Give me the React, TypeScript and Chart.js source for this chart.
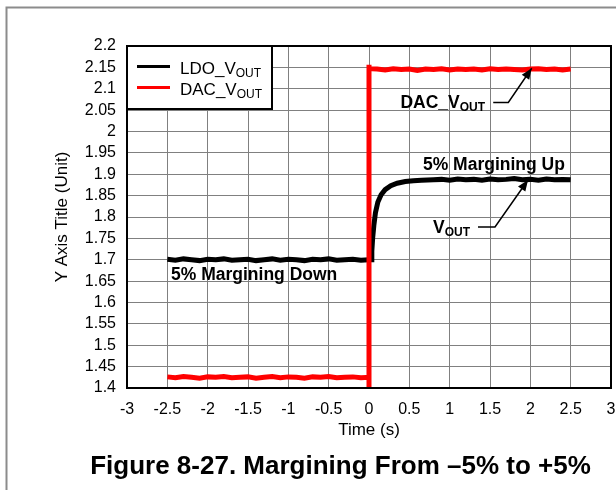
import React, { useEffect, useRef } from "react";
import { Chart, registerables } from "chart.js";

Chart.register(...registerables);

// ---- data ----
const xTickValues = [-3, -2.5, -2, -1.5, -1, -0.5, 0, 0.5, 1, 1.5, 2, 2.5, 3];
const xTickLabels = ["-3", "-2.5", "-2", "-1.5", "-1", "-0.5", "0", "0.5", "1", "1.5", "2", "2.5", "3"];
const yTickValues = [1.4, 1.45, 1.5, 1.55, 1.6, 1.65, 1.7, 1.75, 1.8, 1.85, 1.9, 1.95, 2, 2.05, 2.1, 2.15, 2.2];
const yTickLabels = ["1.4", "1.45", "1.5", "1.55", "1.6", "1.65", "1.7", "1.75", "1.8", "1.85", "1.9", "1.95", "2", "2.05", "2.1", "2.15", "2.2"];

const ldoTime = [
  -2.5, -2.4, -2.3, -2.2, -2.1, -2.0, -1.9, -1.8, -1.7, -1.6, -1.5, -1.4, -1.3,
  -1.2, -1.1, -1.0, -0.9, -0.8, -0.7, -0.6, -0.5, -0.4, -0.3, -0.2, -0.1, 0.0,
  0.03, 0.035, 0.045, 0.06, 0.08, 0.11, 0.15, 0.2, 0.27, 0.35, 0.45, 0.55, 0.65, 0.8,
  0.9, 1.0, 1.1, 1.2, 1.3, 1.4, 1.5, 1.6, 1.7, 1.8, 1.9, 2.0, 2.1, 2.2, 2.3, 2.4, 2.5,
];
const ldoVolt = [
  1.701, 1.699, 1.702, 1.700, 1.698, 1.701, 1.700, 1.702, 1.699, 1.700, 1.701, 1.698, 1.700,
  1.702, 1.699, 1.701, 1.700, 1.698, 1.701, 1.700, 1.702, 1.699, 1.700, 1.701, 1.699, 1.700,
  1.700, 1.720, 1.750, 1.780, 1.810, 1.835, 1.852, 1.864, 1.873, 1.879, 1.883, 1.885, 1.886, 1.887,
  1.888, 1.886, 1.889, 1.887, 1.888, 1.886, 1.889, 1.887, 1.888, 1.890, 1.887, 1.888, 1.886, 1.889, 1.887, 1.888, 1.887,
];

const dacTime = [
  -2.5, -2.4, -2.3, -2.2, -2.1, -2.0, -1.9, -1.8, -1.7, -1.6, -1.5, -1.4, -1.3,
  -1.2, -1.1, -1.0, -0.9, -0.8, -0.7, -0.6, -0.5, -0.4, -0.3, -0.2, -0.1,
  0.0, 0.0, 0.0, 0.0,
  0.1, 0.2, 0.3, 0.4, 0.5, 0.6, 0.7, 0.8, 0.9, 1.0, 1.1, 1.2, 1.3, 1.4, 1.5,
  1.6, 1.7, 1.8, 1.9, 2.0, 2.1, 2.2, 2.3, 2.4, 2.5,
];
const dacVolt = [
  1.426, 1.424, 1.427, 1.425, 1.423, 1.426, 1.425, 1.427, 1.424, 1.425, 1.426, 1.423, 1.425,
  1.427, 1.424, 1.426, 1.425, 1.423, 1.426, 1.425, 1.427, 1.424, 1.425, 1.426, 1.424,
  1.425, 1.4, 2.156, 2.147,
  2.146, 2.144, 2.147, 2.145, 2.146, 2.143, 2.146, 2.145, 2.147, 2.144, 2.146, 2.145, 2.146, 2.144, 2.147,
  2.145, 2.146, 2.145, 2.144, 2.146, 2.147, 2.145, 2.146, 2.144, 2.146,
];

const seriesNames = ["LDO_V", "DAC_V"];
const seriesSub = "OUT";
const seriesColors = ["#000000", "#ff0000"];

const FONT = 'Arial, "Liberation Sans", sans-serif';

function subText(ctx: CanvasRenderingContext2D, main: string, sub: string, x: number, y: number, mainFont: string, subFont: string, dy: number) {
  ctx.font = mainFont;
  ctx.textAlign = "left";
  ctx.textBaseline = "alphabetic";
  ctx.fillText(main, x, y);
  const w = ctx.measureText(main).width;
  ctx.font = subFont;
  ctx.fillText(sub, x + w, y + dy);
}

function arrow(ctx: CanvasRenderingContext2D, pts: number[][]) {
  ctx.save();
  ctx.strokeStyle = "#000";
  ctx.fillStyle = "#000";
  ctx.lineWidth = 1.5;
  ctx.beginPath();
  ctx.moveTo(pts[0][0], pts[0][1]);
  for (let i = 1; i < pts.length; i++) ctx.lineTo(pts[i][0], pts[i][1]);
  ctx.stroke();
  const [x1, y1] = pts[pts.length - 2];
  const [x2, y2] = pts[pts.length - 1];
  const ang = Math.atan2(y2 - y1, x2 - x1);
  const L = 11, W = 4.5;
  const bx = x2 - L * Math.cos(ang), by = y2 - L * Math.sin(ang);
  ctx.beginPath();
  ctx.moveTo(x2, y2);
  ctx.lineTo(bx + W * Math.sin(ang), by - W * Math.cos(ang));
  ctx.lineTo(bx - W * Math.sin(ang), by + W * Math.cos(ang));
  ctx.closePath();
  ctx.fill();
  ctx.restore();
}

const decorPlugin = {
  id: "decor",
  beforeDraw(chart: any) {
    const ctx = chart.ctx as CanvasRenderingContext2D;
    ctx.save();
    ctx.fillStyle = "#fff";
    ctx.fillRect(0, 0, chart.width, chart.height);
    ctx.strokeStyle = "#8c8c8c";
    ctx.lineWidth = 2;
    ctx.beginPath();
    ctx.moveTo(6.5, chart.height);
    ctx.lineTo(6.5, 7.5);
    ctx.lineTo(chart.width, 7.5);
    ctx.stroke();
    ctx.restore();
  },
  afterDraw(chart: any) {
    const ctx = chart.ctx as CanvasRenderingContext2D;
    const a = chart.chartArea;
    const xs = chart.scales.x;
    const ys = chart.scales.y;
    const px = (v: number) => xs.getPixelForValue(v);
    const py = (v: number) => ys.getPixelForValue(v);
    ctx.save();
    // plot frame
    ctx.strokeStyle = "#000";
    ctx.lineWidth = 2;
    ctx.strokeRect(a.left, a.top, a.right - a.left, a.bottom - a.top);

    // legend
    const lx = a.left, ly = a.top, lw = 145, lh = 63;
    ctx.fillStyle = "#fff";
    ctx.fillRect(lx, ly, lw, lh);
    ctx.strokeStyle = "#000";
    ctx.lineWidth = 2;
    ctx.strokeRect(lx, ly, lw, lh);
    for (let i = 0; i < seriesNames.length; i++) {
      const yy = ly + 20.5 + i * 21;
      ctx.strokeStyle = seriesColors[i];
      ctx.lineWidth = 3;
      ctx.beginPath();
      ctx.moveTo(lx + 10, yy);
      ctx.lineTo(lx + 43, yy);
      ctx.stroke();
      ctx.fillStyle = "#000";
      subText(ctx, seriesNames[i], seriesSub, lx + 53, yy + 7.5, `17px ${FONT}`, `12px ${FONT}`, 3);
    }

    // annotations
    ctx.fillStyle = "#000";
    const boldMain = `bold 17.5px ${FONT}`;
    const boldSub = `bold 12px ${FONT}`;
    subText(ctx, "DAC_V", "OUT", px(0.39), py(2.055), boldMain, boldSub, 3);
    arrow(ctx, [[px(1.54), py(2.068)], [px(1.727), py(2.068)], [px(2.017), py(2.148)]]);

    ctx.font = boldMain;
    ctx.fillText("5% Margining Up", px(0.669), py(1.91));

    subText(ctx, "V", "OUT", px(0.793), py(1.7626), boldMain, boldSub, 3);
    arrow(ctx, [[px(1.351), py(1.7766)], [px(1.562), py(1.7766)], [px(1.971), py(1.8866)]]);

    ctx.font = boldMain;
    ctx.fillText("5% Margining Down", px(-2.454), py(1.6526));

    // figure caption
    ctx.font = `bold 26px ${FONT}`;
    ctx.textAlign = "center";
    ctx.textBaseline = "middle";
    ctx.fillText("Figure 8-27. Margining From \u20135% to +5%", 340.5, 467);
    ctx.restore();
  },
};

export default function App() {
  const ref = useRef<HTMLCanvasElement | null>(null);
  useEffect(() => {
    document.body.style.margin = "0";
    const canvas = ref.current!;
    Chart.defaults.font.family = FONT;
    Chart.defaults.color = "#000";
    const chart = new Chart(canvas, {
      type: "line",
      data: {
        datasets: [
          {
            label: "DAC",
            data: dacTime.map((t, i) => ({ x: t, y: dacVolt[i] })),
            borderColor: seriesColors[1],
            borderWidth: 5,
            pointRadius: 0,
            tension: 0,
            order: 0,
          },
          {
            label: "LDO",
            data: ldoTime.map((t, i) => ({ x: t, y: ldoVolt[i] })),
            borderColor: seriesColors[0],
            borderWidth: 5,
            pointRadius: 0,
            tension: 0,
            order: 1,
          },
        ],
      },
      options: {
        responsive: false,
        animation: false,
        devicePixelRatio: 1,
        layout: { padding: { top: 46, right: 5, left: 0, bottom: 0 } },
        plugins: { legend: { display: false }, tooltip: { enabled: false }, title: { display: false } },
        scales: {
          x: {
            type: "linear",
            min: -3,
            max: 3,
            afterBuildTicks: (s: any) => { s.ticks = xTickValues.map((v) => ({ value: v })); },
            afterFit: (s: any) => { s.height = 102; s.paddingLeft = 0; s.paddingRight = 0; },
            ticks: {
              font: { size: 16 },
              color: "#000",
              padding: 12,
              maxRotation: 0,
              autoSkip: false,
              callback: (_v: any, i: number) => xTickLabels[i],
            },
            grid: { color: "#808080", lineWidth: 1, drawTicks: false },
            border: { color: "#000", width: 2 },
            title: { display: true, text: "Time (s)", font: { size: 17 }, color: "#000", padding: { top: 0, bottom: 49 } },
          },
          y: {
            type: "linear",
            min: 1.4,
            max: 2.2,
            afterBuildTicks: (s: any) => { s.ticks = yTickValues.map((v) => ({ value: v })); },
            afterFit: (s: any) => { s.width = 127; s.paddingTop = 0; s.paddingBottom = 0; },
            ticks: {
              font: { size: 16 },
              color: "#000",
              padding: 11,
              autoSkip: false,
              callback: (_v: any, i: number) => yTickLabels[i],
            },
            grid: { color: "#808080", lineWidth: 1, drawTicks: false },
            border: { color: "#000", width: 2 },
            title: { display: true, text: "Y Axis Title (Unit)", font: { size: 17 }, color: "#000", padding: { top: 52, bottom: 0 } },
          },
        },
      },
      plugins: [decorPlugin],
    });
    return () => chart.destroy();
  }, []);
  return (
    <div style={{ position: "absolute", left: 0, top: 0, width: 616, height: 490 }}>
      <canvas ref={ref} width={616} height={490} style={{ width: 616, height: 490, display: "block" }} />
    </div>
  );
}
